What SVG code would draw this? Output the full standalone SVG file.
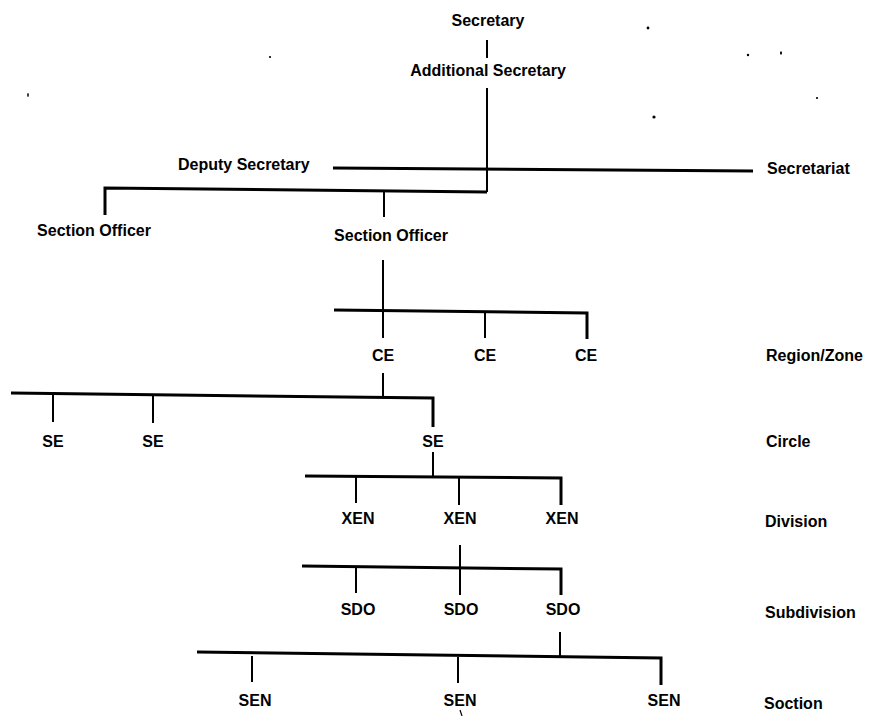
<svg xmlns="http://www.w3.org/2000/svg" width="869" height="716" viewBox="0 0 869 716">
<style>
text{font-family:"Liberation Sans",Arial,sans-serif;font-weight:bold;font-size:16px;fill:#000}
.m{text-anchor:middle}
.c{fill:none;stroke:#000;stroke-width:2}
.h{fill:none;stroke:#000;stroke-width:3;stroke-linejoin:miter}
.speck{fill:#000}
</style>
<rect width="869" height="716" fill="#fff"/>
<g id="connectors">
<line class="c" x1="487" y1="40" x2="487" y2="58"/>
<line class="c" x1="487" y1="88" x2="487" y2="192"/>
<line class="h" x1="333" y1="168" x2="753" y2="171"/>
<polyline class="h" points="105,215 105,188 487,192"/>
<line class="c" x1="384" y1="192" x2="384" y2="217"/>
<line class="c" x1="383" y1="260" x2="383" y2="338"/>
<polyline class="h" points="334,310 587,313 587,339"/>
<line class="c" x1="485" y1="313" x2="485" y2="338"/>
<line class="c" x1="383" y1="373" x2="383" y2="397"/>
<polyline class="h" points="11,393 433,398 433,427"/>
<line class="c" x1="53" y1="395" x2="53" y2="422"/>
<line class="c" x1="153" y1="396" x2="153" y2="423"/>
<line class="c" x1="433" y1="452" x2="433" y2="477"/>
<polyline class="h" points="305,476 561,478 561,505"/>
<line class="c" x1="356" y1="477" x2="356" y2="503"/>
<line class="c" x1="459" y1="477" x2="459" y2="505"/>
<line class="c" x1="460" y1="545" x2="460" y2="595"/>
<polyline class="h" points="302,566 561,569 561,595"/>
<line class="c" x1="356" y1="568" x2="356" y2="593"/>
<line class="c" x1="560" y1="632" x2="560" y2="656"/>
<polyline class="h" points="197,652 661,658 661,685"/>
<line class="c" x1="252" y1="656" x2="252" y2="682"/>
<line class="c" x1="458" y1="657" x2="458" y2="683"/>
</g>
<g id="n-secretary"><text class="m" x="488" y="26">Secretary</text></g>
<g id="n-addsec"><text class="m" x="488" y="76">Additional Secretary</text></g>
<g id="n-depsec"><text x="178" y="170">Deputy Secretary</text></g>
<g id="n-secretariat"><text x="767" y="174">Secretariat</text></g>
<g id="n-so1"><text class="m" x="94" y="236">Section Officer</text></g>
<g id="n-so2"><text class="m" x="391" y="241">Section Officer</text></g>
<g id="n-ce1"><text class="m" x="383" y="361">CE</text></g>
<g id="n-ce2"><text class="m" x="485" y="361">CE</text></g>
<g id="n-ce3"><text class="m" x="586" y="361">CE</text></g>
<g id="n-region"><text x="766" y="361">Region/Zone</text></g>
<g id="n-se1"><text class="m" x="53" y="447">SE</text></g>
<g id="n-se2"><text class="m" x="153" y="447">SE</text></g>
<g id="n-se3"><text class="m" x="433" y="447">SE</text></g>
<g id="n-circle"><text x="766" y="447">Circle</text></g>
<g id="n-xen1"><text class="m" x="358" y="524">XEN</text></g>
<g id="n-xen2"><text class="m" x="460" y="524">XEN</text></g>
<g id="n-xen3"><text class="m" x="562" y="524">XEN</text></g>
<g id="n-division"><text x="765" y="527">Division</text></g>
<g id="n-sdo1"><text class="m" x="358" y="615">SDO</text></g>
<g id="n-sdo2"><text class="m" x="461" y="615">SDO</text></g>
<g id="n-sdo3"><text class="m" x="563" y="615">SDO</text></g>
<g id="n-subdivision"><text x="765" y="618">Subdivision</text></g>
<g id="n-sen1"><text class="m" x="255" y="706">SEN</text></g>
<g id="n-sen2"><text class="m" x="460" y="706">SEN</text></g>
<g id="n-sen3"><text class="m" x="664" y="706">SEN</text></g>
<g id="n-section"><text x="764" y="709">Soction</text></g>
<g id="specks">
<circle class="speck" cx="648" cy="28" r="1.4"/>
<circle class="speck" cx="270" cy="57" r="1.1"/>
<circle class="speck" cx="748" cy="55" r="1.2"/>
<ellipse class="speck" cx="781" cy="53" rx="1" ry="1.8"/>
<ellipse class="speck" cx="28" cy="95" rx="0.8" ry="2"/>
<circle class="speck" cx="817" cy="98" r="1.1"/>
<circle class="speck" cx="654" cy="117" r="1.6"/>
<line x1="460" y1="710" x2="462" y2="716" stroke="#000" stroke-width="1.2"/>
</g>
</svg>
